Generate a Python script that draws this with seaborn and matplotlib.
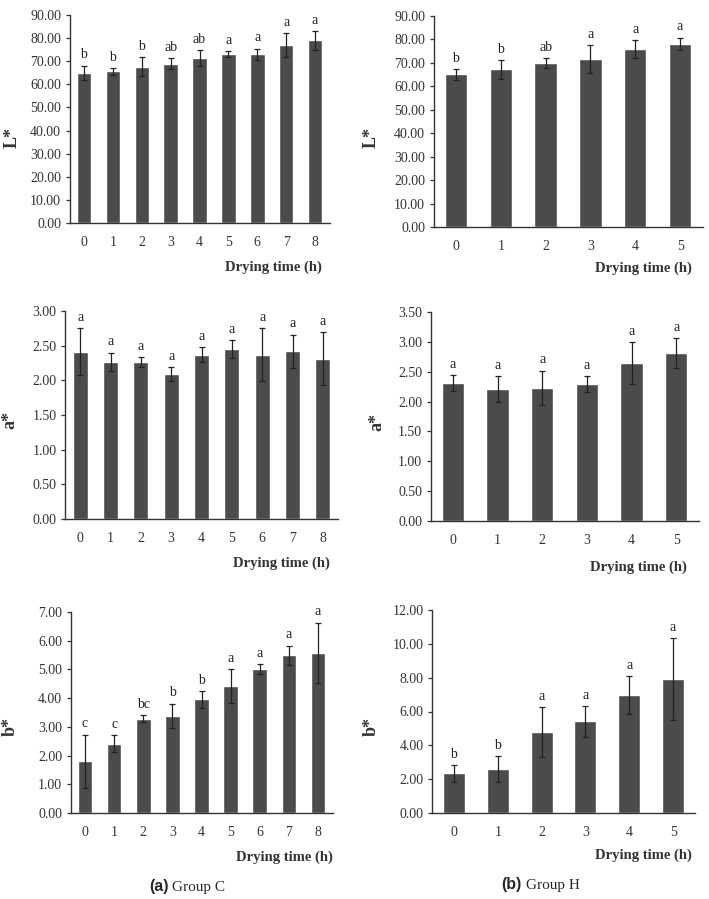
import numpy as np
import pandas as pd
import matplotlib
matplotlib.use("Agg")
import matplotlib.pyplot as plt
import seaborn as sb

# values
hours_c = ["0", "1", "2", "3", "4", "5", "6", "7", "8"]
hours_h = ["0", "1", "2", "3", "4", "5"]

L_c = [65.0, 65.7, 67.7, 69.0, 71.4, 73.1, 73.1, 77.0, 79.0]
L_c_err = [3.1, 1.5, 4.1, 2.4, 3.3, 1.2, 2.4, 5.1, 4.0]
L_c_let = ["b", "b", "b", "ab", "ab", "a", "a", "a", "a"]

L_h = [65.2, 67.3, 70.0, 71.7, 75.9, 78.1]
L_h_err = [2.3, 4.0, 2.1, 5.9, 4.0, 2.7]
L_h_let = ["b", "b", "ab", "a", "a", "a"]

a_c = [2.41, 2.27, 2.26, 2.09, 2.37, 2.45, 2.37, 2.42, 2.31]
a_c_err = [0.34, 0.13, 0.07, 0.10, 0.11, 0.13, 0.38, 0.24, 0.38]
a_c_let = ["a"] * 9

a_h = [2.31, 2.21, 2.23, 2.29, 2.65, 2.81]
a_h_err = [0.14, 0.21, 0.29, 0.13, 0.35, 0.25]
a_h_let = ["a"] * 6

b_c = [1.80, 2.41, 3.29, 3.39, 3.96, 4.42, 5.02, 5.50, 5.57]
b_c_err = [0.93, 0.29, 0.12, 0.42, 0.29, 0.59, 0.18, 0.33, 1.06]
b_c_let = ["c", "c", "bc", "b", "b", "a", "a", "a", "a"]

b_h = [2.34, 2.61, 4.78, 5.41, 6.95, 7.94]
b_h_err = [0.49, 0.75, 1.48, 0.91, 1.12, 2.42]
b_h_let = ["b", "b", "a", "a", "a", "a"]

W, H = 709, 899
serif = ["Liberation Serif", "DejaVu Serif"]
sb.set_style("white")
plt.rcParams["font.family"] = serif

fig = plt.figure(figsize=(W / 100, H / 100), dpi=100)


def px_axes(left, right, top, bottom):
    return fig.add_axes([left / W, 1 - bottom / H, (right - left) / W, (bottom - top) / H])


def panel(box, hours, vals, errs, lets, ymax, ystep, ylab, ylab_xy, xlab_xy):
    ax = px_axes(*box)
    df = pd.DataFrame({"hour": hours, "val": vals})
    sb.barplot(data=df, x="hour", y="val", order=hours, color="#4b4b4b",
               saturation=1, width=0.5, errorbar=None, ax=ax)
    xs = np.arange(len(hours))
    ax.errorbar(xs, vals, yerr=errs, fmt="none", ecolor="#222222",
                elinewidth=0.9, capsize=2.2, capthick=0.9)
    for x, v, e, t in zip(xs, vals, errs, lets):
        ax.annotate(t, (x, v + e), xytext=(0, 3), textcoords="offset points",
                    ha="center", va="bottom", fontsize=10, color="#222222")
    ax.set_xlim(-0.5, len(hours) - 0.5)
    ax.set_ylim(0, ymax)
    ax.set_yticks(np.arange(0, ymax + ystep / 2, ystep))
    ax.set_yticklabels([f"{t:.2f}" for t in np.arange(0, ymax + ystep / 2, ystep)])
    ax.set_xlabel("")
    ax.set_ylabel("")
    for s in ["top", "right"]:
        ax.spines[s].set_visible(False)
    for s in ["left", "bottom"]:
        ax.spines[s].set_color("#333333")
        ax.spines[s].set_linewidth(1.0)
    ax.tick_params(axis="y", left=True, length=3, width=0.9, color="#333333",
                   labelsize=10, labelcolor="#333333", pad=3)
    ax.tick_params(axis="x", bottom=False, labelsize=10, labelcolor="#333333", pad=6)
    fig.text(ylab_xy[0] / W, 1 - ylab_xy[1] / H, ylab, rotation=90, ha="center",
             va="center", fontsize=13, fontweight="bold", color="#333333")
    fig.text(xlab_xy[0] / W, 1 - xlab_xy[1] / H, "Drying time (h)", ha="right",
             va="center", fontsize=10.5, fontweight="bold", color="#333333")
    return ax


panel((69.5, 329.5, 15, 223), hours_c, L_c, L_c_err, L_c_let, 90, 10, "L*", (12, 137), (322, 267))
panel((433.5, 702.5, 16, 227), hours_h, L_h, L_h_err, L_h_let, 90, 10, "L*", (371, 137), (692, 268))
panel((65, 338, 311, 519), hours_c, a_c, a_c_err, a_c_let, 3.0, 0.5, "a*", (10, 420), (330, 563))
panel((430.5, 698.5, 312, 521), hours_h, a_h, a_h_err, a_h_let, 3.5, 0.5, "a*", (377, 422), (687, 567))
panel((70.5, 332.5, 612, 813), hours_c, b_c, b_c_err, b_c_let, 7.0, 1.0, "b*", (10, 727), (333, 857))
panel((432, 695, 610, 813), hours_h, b_h, b_h_err, b_h_let, 12.0, 2.0, "b*", (371, 727), (692, 855))

# captions
fig.text(169 / W, 1 - 887 / H, "(a)", ha="right", va="center", fontsize=11.5,
         fontweight="bold", family=["Liberation Sans", "DejaVu Sans"])
fig.text(172 / W, 1 - 887 / H, "Group C", ha="left", va="center", fontsize=11)
fig.text(522 / W, 1 - 885 / H, "(b)", ha="right", va="center", fontsize=11.5,
         fontweight="bold", family=["Liberation Sans", "DejaVu Sans"])
fig.text(526 / W, 1 - 885 / H, "Group H", ha="left", va="center", fontsize=11)

fig.savefig("out.png", dpi=100)
